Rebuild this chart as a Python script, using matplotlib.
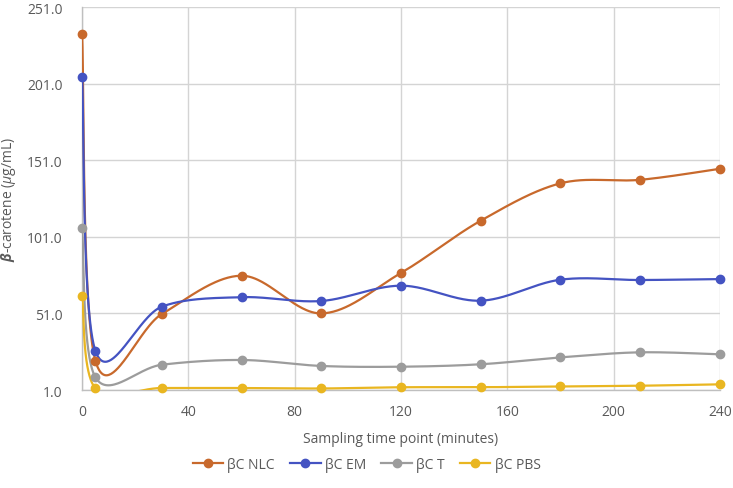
import numpy as np
import matplotlib
matplotlib.use("Agg")
import matplotlib.pyplot as plt
from matplotlib.lines import Line2D

# ---- data ----
time_min = [0, 5, 30, 60, 90, 120, 150, 180, 210, 240]
nlc = [233.4, 20.1, 50.6, 75.6, 51.0, 77.4, 111.5, 135.9, 138.2, 145.4]
em = [205.5, 26.6, 55.4, 61.6, 59.1, 69.1, 59.3, 73.0, 72.8, 73.4]
t_ = [106.5, 9.3, 17.5, 20.6, 16.7, 16.2, 17.8, 22.3, 25.6, 24.3]
pbs = [62.2, 2.1, 2.3, 2.3, 2.0, 2.8, 2.8, 3.4, 3.8, 4.7]
series_names = ["βC NLC", "βC EM", "βC T", "βC PBS"]
colors = ["#C8692C", "#4453C2", "#9C9C9C", "#E9B621"]
yticks = [1.0, 51.0, 101.0, 151.0, 201.0, 251.0]
xticks = [0, 40, 80, 120, 160, 200, 240]

plt.rcParams['font.family'] = ['Open Sans', 'DejaVu Sans']
plt.rcParams['mathtext.fontset'] = 'custom'
plt.rcParams['mathtext.it'] = 'Open Sans:italic'
plt.rcParams['mathtext.bf'] = 'Open Sans:italic:bold'
plt.rcParams['mathtext.rm'] = 'Open Sans'


def smooth(xs, ys, n=60):
    """Excel-like smoothed line (Catmull-Rom Bezier segments)."""
    P = np.column_stack([xs, ys]).astype(float)
    m = len(P)
    out = []
    for i in range(m - 1):
        p0 = P[i - 1] if i > 0 else P[i]
        p1 = P[i]
        p2 = P[i + 1]
        p3 = P[i + 2] if i + 2 < m else P[i + 1]
        c1 = p1 + (p2 - p0) / 6.0
        c2 = p2 - (p3 - p1) / 6.0
        tt = np.linspace(0, 1, n)[:, None]
        seg = ((1 - tt) ** 3) * p1 + 3 * ((1 - tt) ** 2) * tt * c1 + 3 * (1 - tt) * tt ** 2 * c2 + tt ** 3 * p2
        out.append(seg if i == 0 else seg[1:])
    arr = np.vstack(out)
    return arr[:, 0], arr[:, 1]


fig = plt.figure(figsize=(7.33, 4.89), dpi=100)
ax = fig.add_axes([0.112, 0.2004, 0.870, 0.7832])

handles = []
for name, vals, c in zip(series_names, [nlc, em, t_, pbs], colors):
    sx, sy = smooth(time_min, vals)
    ax.plot(sx, sy, color=c, lw=1.6, solid_capstyle='round', zorder=3)
    ax.plot(time_min, vals, linestyle='none', marker='o', ms=6, color=c, zorder=4, clip_on=False)
    handles.append(Line2D([], [], color=c, lw=1.6, marker='o', ms=6, label=name))

ax.set_xlim(0, 240)
ax.set_ylim(1.0, 251.0)
ax.set_xticks(xticks)
ax.set_yticks(yticks)
ax.set_yticklabels([f"{v:.1f}" for v in yticks])
ax.grid(True, color="#D4D4D4", lw=1.0, zorder=0)
ax.set_axisbelow(True)
for s in ['top', 'right']:
    ax.spines[s].set_visible(False)
for s in ['left', 'bottom']:
    ax.spines[s].set_color("#BFBFBF")
    ax.spines[s].set_linewidth(1.0)
ax.tick_params(length=0, labelsize=10, labelcolor="#595959")
ax.tick_params(axis='y', pad=14)
ax.tick_params(axis='x', pad=10)

ax.set_xlabel("Sampling time point (minutes)", fontsize=10, color="#595959", labelpad=9)
ax.set_ylabel(r"$\mathbf{\beta}$-carotene ($\mu$g/mL)", fontsize=10, color="#595959")
ax.yaxis.set_label_coords(-0.101, 0.5)

fig.legend(handles=handles, loc='center', bbox_to_anchor=(0.5, 0.049), ncol=4,
           frameon=False, fontsize=10, labelcolor="#595959", handlelength=2.2,
           columnspacing=1.1, handletextpad=0.3)

fig.savefig("out.png", dpi=100)
